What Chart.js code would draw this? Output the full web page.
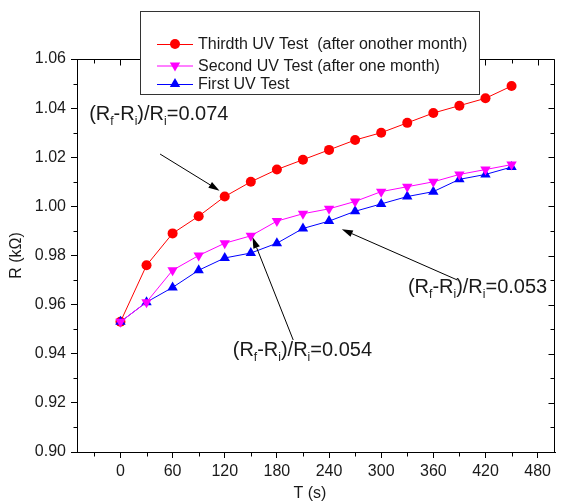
<!DOCTYPE html>
<html>
<head>
<meta charset="utf-8">
<script src="https://cdn.jsdelivr.net/npm/chart.js@4.4.0/dist/chart.umd.min.js"></script>
<style>
  html, body { margin: 0; padding: 0; background: #fff; }
</style>
</head>
<body>
<canvas id="chart" width="561" height="504"></canvas>
<script>
// resistance vs time for the three UV tests
const timeSeconds = [0, 30, 60, 90, 120, 150, 180, 210, 240, 270, 300, 330, 360, 390, 420, 450];
const thirdTest  = [0.953, 0.976, 0.989, 0.996, 1.004, 1.010, 1.015, 1.019, 1.023, 1.027, 1.030, 1.034, 1.038, 1.041, 1.044, 1.049];
const secondTest = [0.953, 0.961, 0.974, 0.980, 0.985, 0.988, 0.994, 0.997, 0.999, 1.002, 1.006, 1.008, 1.010, 1.013, 1.015, 1.017];
const firstTest  = [0.953, 0.961, 0.967, 0.974, 0.979, 0.981, 0.985, 0.991, 0.994, 0.998, 1.001, 1.004, 1.006, 1.011, 1.013, 1.016];

const seriesLabels = ['Thirdth UV Test  (after onother month)', 'Second UV Test (after one month)', 'First UV Test'];

const xTickValues = [0, 60, 120, 180, 240, 300, 360, 420, 480];
const xMinorTicks = [-30, 30, 90, 150, 210, 270, 330, 390, 450];
const yTickValues = [0.90, 0.92, 0.94, 0.96, 0.98, 1.00, 1.02, 1.04, 1.06];
const yMinorTicks = [0.91, 0.93, 0.95, 0.97, 0.99, 1.01, 1.03, 1.05];

const FONT = '"Liberation Sans", Arial, sans-serif';
const TEXT = '#1a1a1a';

// (Rf-Ri)/Ri labels with arrows, placed in data coordinates
const notes = [
    { value: '0.074', at: [-36, 1.0352],  from: [45.6, 1.0213],  to: [114, 1.0064] },
    { value: '0.053', at: [330.8, 0.9647], from: [387.8, 0.9700], to: [254.7, 0.9907] },
    { value: '0.054', at: [129.2, 0.9391], from: [198.8, 0.9456], to: [152, 0.9874] }
];

function toPoints(ys) {
    return timeSeconds.map((t, i) => ({ x: t, y: ys[i] }));
}

function drawMarker(ctx, style, x, y, r, color) {
    ctx.save();
    ctx.fillStyle = color;
    ctx.beginPath();
    if (style === 'circle') {
        ctx.arc(x, y, r, 0, Math.PI * 2);
    } else {
        const dir = style === 'down' ? -1 : 1;
        const h = r * Math.sqrt(3) / 2;
        ctx.moveTo(x, y - dir * r);
        ctx.lineTo(x + h, y + dir * r / 2);
        ctx.lineTo(x - h, y + dir * r / 2);
        ctx.closePath();
    }
    ctx.fill();
    ctx.restore();
}

function drawRatio(ctx, value, x, y) {
    const parts = [['(R', 0], ['f', 1], ['-R', 0], ['i', 1], [')/R', 0], ['i', 1], ['=' + value, 0]];
    ctx.save();
    ctx.fillStyle = TEXT;
    ctx.textBaseline = 'alphabetic';
    ctx.textAlign = 'left';
    parts.forEach(([s, sub]) => {
        ctx.font = (sub ? '12px ' : '20px ') + FONT;
        ctx.fillText(s, x, y + (sub ? 5 : 0));
        x += ctx.measureText(s).width;
    });
    ctx.restore();
}

function drawArrow(ctx, x1, y1, x2, y2) {
    const ang = Math.atan2(y2 - y1, x2 - x1);
    const len = 11, half = 3.5;
    const bx = x2 - Math.cos(ang) * len, by = y2 - Math.sin(ang) * len;
    ctx.save();
    ctx.strokeStyle = '#000';
    ctx.fillStyle = '#000';
    ctx.lineWidth = 1;
    ctx.beginPath();
    ctx.moveTo(x1, y1);
    ctx.lineTo(bx, by);
    ctx.stroke();
    ctx.beginPath();
    ctx.moveTo(x2, y2);
    ctx.lineTo(bx - Math.sin(ang) * half, by + Math.cos(ang) * half);
    ctx.lineTo(bx + Math.sin(ang) * half, by - Math.cos(ang) * half);
    ctx.closePath();
    ctx.fill();
    ctx.restore();
}

const decorations = {
    id: 'decorations',
    afterDraw(chart) {
        const ctx = chart.ctx;
        const xs = chart.scales.x, ys = chart.scales.y;
        const a = chart.chartArea;
        const L = Math.round(a.left) + 0.5, R = Math.round(a.right) - 0.5;
        const T = Math.round(a.top) + 0.5, B = Math.round(a.bottom) + 0.5;

        ctx.save();
        ctx.strokeStyle = '#000';
        ctx.lineWidth = 1;
        ctx.beginPath();
        // top and right frame
        ctx.moveTo(L, T); ctx.lineTo(R, T); ctx.lineTo(R, B);
        // mirrored major ticks
        xTickValues.forEach(v => {
            const px = Math.round(xs.getPixelForValue(v)) + 0.5;
            ctx.moveTo(px, T); ctx.lineTo(px, T + 6);
        });
        yTickValues.forEach(v => {
            const py = Math.round(ys.getPixelForValue(v)) + 0.5;
            ctx.moveTo(R, py); ctx.lineTo(R - 6, py);
        });
        // minor ticks
        xMinorTicks.forEach(v => {
            const px = Math.round(xs.getPixelForValue(v)) + 0.5;
            ctx.moveTo(px, B); ctx.lineTo(px, B + 4);
            ctx.moveTo(px, T); ctx.lineTo(px, T + 4);
        });
        yMinorTicks.forEach(v => {
            const py = Math.round(ys.getPixelForValue(v)) + 0.5;
            ctx.moveTo(L, py); ctx.lineTo(L - 4, py);
            ctx.moveTo(R, py); ctx.lineTo(R - 4, py);
        });
        ctx.stroke();

        // axis titles
        ctx.fillStyle = TEXT;
        ctx.font = '16px ' + FONT;
        ctx.textAlign = 'center';
        ctx.textBaseline = 'middle';
        ctx.fillText('T (s)', 310, 494);
        ctx.save();
        ctx.translate(17, (a.top + a.bottom) / 2);
        ctx.rotate(-Math.PI / 2);
        ctx.fillText('R (k\u03A9)', 0, 0);
        ctx.restore();

        // legend box
        ctx.fillStyle = '#fff';
        ctx.fillRect(140.5, 11.5, 339, 83);
        ctx.strokeStyle = '#333';
        ctx.strokeRect(140.5, 11.5, 339, 83);
        const rows = [44, 65.5, 84];
        chart.data.datasets.forEach((ds, i) => {
            const y = rows[i];
            ctx.strokeStyle = ds.borderColor;
            ctx.beginPath();
            ctx.moveTo(157, y + 0.5); ctx.lineTo(193, y + 0.5);
            ctx.stroke();
            drawMarker(ctx, ds.markerStyle, 175, y, ds.markerStyle === 'circle' ? 5 : 6, ds.backgroundColor);
            ctx.fillStyle = TEXT;
            ctx.textAlign = 'left';
            ctx.textBaseline = 'middle';
            ctx.font = '16px ' + FONT;
            ctx.fillText(ds.label, 198, y + 1);
        });
        ctx.restore();

        // ratio notes
        notes.forEach(n => {
            drawArrow(ctx,
                xs.getPixelForValue(n.from[0]), ys.getPixelForValue(n.from[1]),
                xs.getPixelForValue(n.to[0]), ys.getPixelForValue(n.to[1]));
            drawRatio(ctx, n.value, xs.getPixelForValue(n.at[0]), ys.getPixelForValue(n.at[1]));
        });
    }
};

const ctx = document.getElementById('chart').getContext('2d');
new Chart(ctx, {
    type: 'scatter',
    data: {
        datasets: [
            {
                label: seriesLabels[0], data: toPoints(thirdTest), markerStyle: 'circle', order: 2,
                borderColor: '#ff0000', backgroundColor: '#ff0000',
                pointStyle: 'circle', pointRadius: 5
            },
            {
                label: seriesLabels[1], data: toPoints(secondTest), markerStyle: 'down', order: 0,
                borderColor: '#ff00ff', backgroundColor: '#ff00ff',
                pointStyle: 'triangle', pointRotation: 180, pointRadius: 6
            },
            {
                label: seriesLabels[2], data: toPoints(firstTest), markerStyle: 'up', order: 1,
                borderColor: '#0000ff', backgroundColor: '#0000ff',
                pointStyle: 'triangle', pointRadius: 6
            }
        ].map(ds => Object.assign(ds, {
            showLine: true, borderWidth: 1, pointBorderWidth: 0, pointHoverRadius: 6
        }))
    },
    options: {
        responsive: false,
        devicePixelRatio: 1,
        animation: false,
        layout: { padding: { top: 59, right: 1, left: 0, bottom: 0 } },
        plugins: { legend: { display: false }, tooltip: { enabled: false } },
        scales: {
            x: {
                type: 'linear', min: -50, max: 500,
                afterBuildTicks: s => { s.ticks = xTickValues.map(v => ({ value: v })); },
                afterFit: s => { s.height = 52; },
                grid: { drawOnChartArea: false, tickLength: 6, color: '#000' },
                border: { color: '#000', width: 1 },
                ticks: { color: TEXT, font: { family: FONT, size: 16 }, padding: 4, maxRotation: 0 }
            },
            y: {
                type: 'linear', min: 0.90, max: 1.06,
                afterBuildTicks: s => { s.ticks = yTickValues.map(v => ({ value: v })); },
                afterFit: s => { s.width = 77; },
                grid: { drawOnChartArea: false, tickLength: 6, color: '#000' },
                border: { color: '#000', width: 1 },
                ticks: {
                    color: TEXT, font: { family: FONT, size: 16 }, padding: 5,
                    callback: v => v.toFixed(2)
                }
            }
        }
    },
    plugins: [decorations]
});
</script>
</body>
</html>
